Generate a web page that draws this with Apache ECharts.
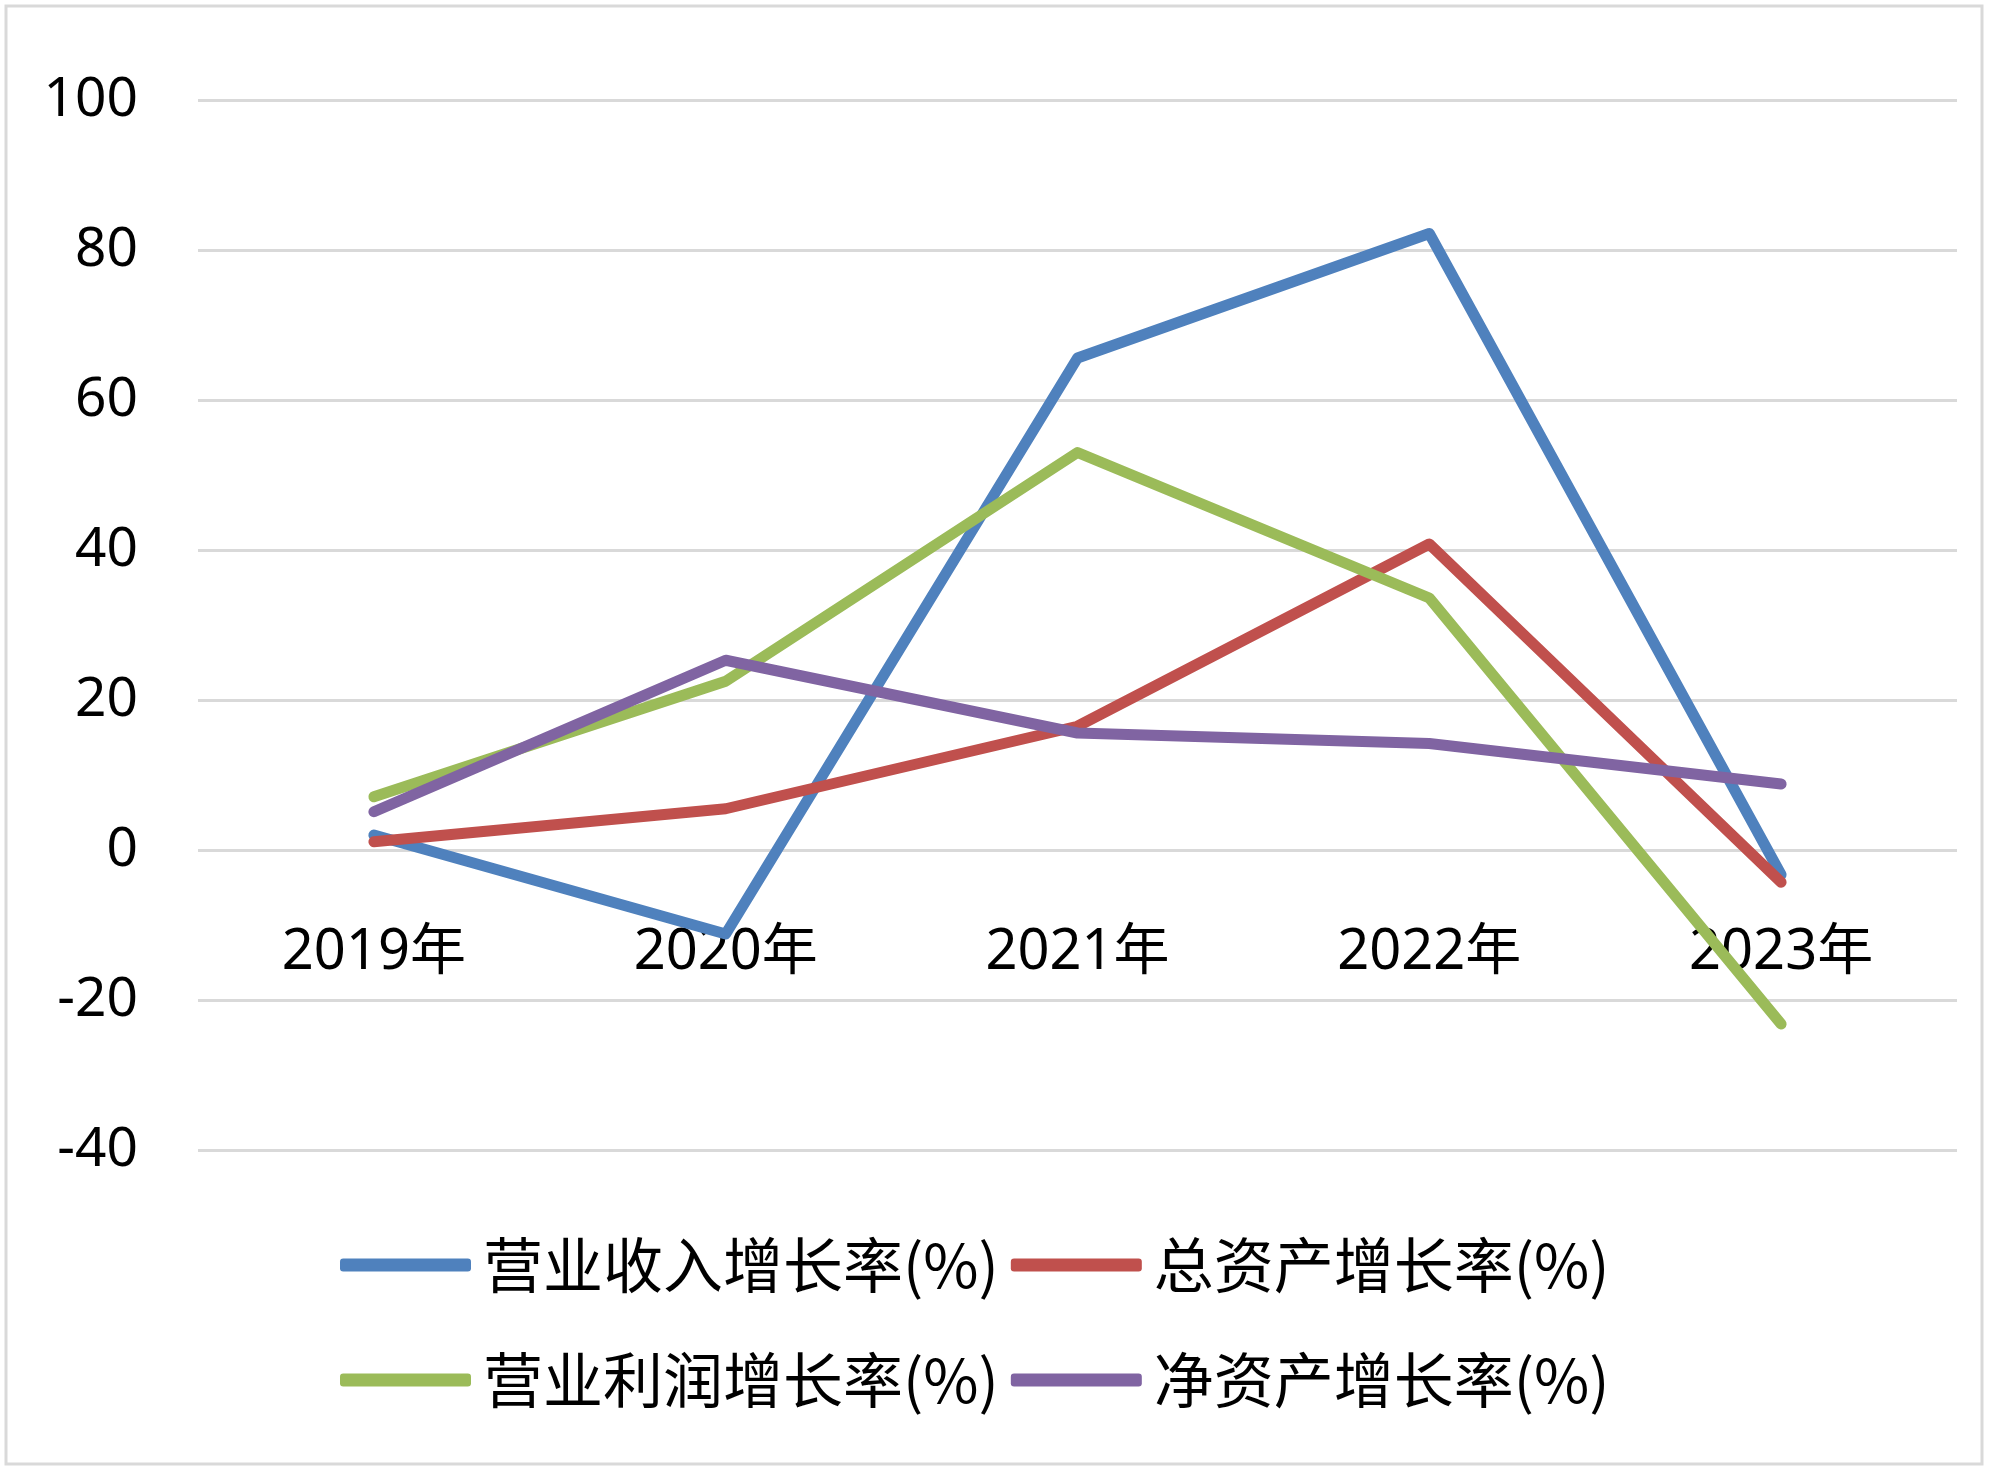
<!DOCTYPE html>
<html>
<head>
<meta charset="utf-8">
<script src="https://cdn.jsdelivr.net/npm/echarts@6/dist/echarts.min.js"></script>
<style>
html, body { margin: 0; padding: 0; background: #fff; }
#main { width: 2000px; height: 1481px; }
</style>
</head>
<body>
<div id="main"></div>
<script>
// 各年增长率
var years = ['2019年', '2020年', '2021年', '2022年', '2023年'];
var revenueGrowth = [2, -11.2, 65.6, 82.2, -3.3];
var assetGrowth = [1.1, 5.5, 16.5, 40.8, -4.3];
var profitGrowth = [7.1, 22.5, 53, 33.6, -23.2];
var equityGrowth = [5.1, 25.3, 15.6, 14.2, 8.8];
var seriesNames = ['营业收入增长率(%)', '总资产增长率(%)', '营业利润增长率(%)', '净资产增长率(%)'];
var colors = ['#4F81BD', '#C0504D', '#9BBB59', '#8064A2'];

var myChart = echarts.init(document.getElementById('main'));

function makeLine(name, data, color) {
    return {
        name: name,
        type: 'line',
        data: data,
        symbol: 'none',
        color: color,
        lineStyle: {
            width: 11,
            color: color,
            cap: 'round',
            join: 'round'
        }
    };
}

var legendText = {
    fontSize: 60,
    color: '#000',
    fontFamily: 'Noto Sans CJK SC',
    padding: [0, 0, 0, 7]
};

var option = {
    backgroundColor: '#fff',
    animation: false,
    textStyle: { fontFamily: 'Noto Sans, Noto Sans CJK SC' },
    graphic: [{
        type: 'rect',
        shape: { x: 6, y: 6, width: 1976, height: 1458 },
        style: { fill: 'none', stroke: '#d9d9d9', lineWidth: 3 }
    }],
    grid: {
        left: 198,
        right: 43,
        top: 100,
        bottom: 331
    },
    legend: [{
        data: [seriesNames[0], seriesNames[1]],
        left: 335,
        top: 1230,
        itemWidth: 131,
        itemHeight: 13,
        itemGap: 12,
        icon: 'roundRect',
        textStyle: legendText
    }, {
        data: [seriesNames[2], seriesNames[3]],
        left: 335,
        top: 1345,
        itemWidth: 131,
        itemHeight: 13,
        itemGap: 12,
        icon: 'roundRect',
        textStyle: legendText
    }],
    xAxis: {
        type: 'category',
        data: years,
        boundaryGap: true,
        axisLine: { show: false },
        axisTick: { show: false },
        axisLabel: {
            color: '#000',
            fontSize: 56,
            margin: -225
        }
    },
    yAxis: {
        type: 'value',
        min: -40,
        max: 100,
        interval: 20,
        axisLine: { show: false },
        axisTick: { show: false },
        splitLine: { lineStyle: { color: '#d9d9d9', width: 3 } },
        axisLabel: {
            color: '#000',
            fontSize: 55,
            margin: 60
        }
    },
    series: [
        makeLine(seriesNames[0], revenueGrowth, colors[0]),
        makeLine(seriesNames[1], assetGrowth, colors[1]),
        makeLine(seriesNames[2], profitGrowth, colors[2]),
        makeLine(seriesNames[3], equityGrowth, colors[3])
    ]
};

myChart.setOption(option);
</script>
</body>
</html>
